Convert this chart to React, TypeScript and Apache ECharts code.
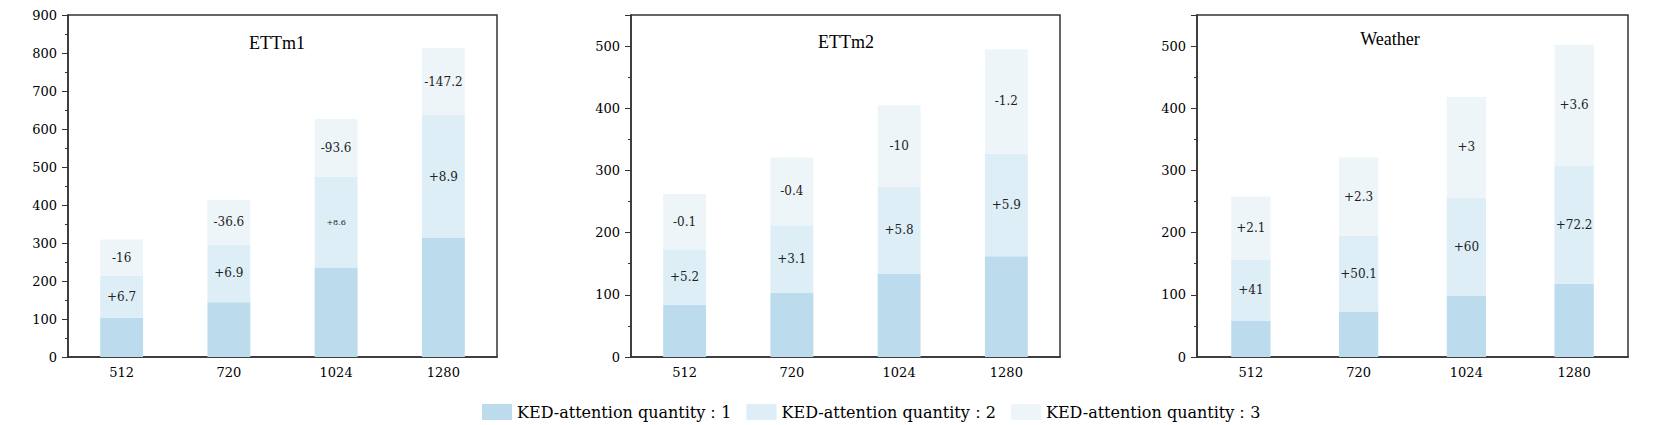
import React, { useEffect, useRef } from "react";
import * as echarts from "echarts";

const categories = ["512", "720", "1024", "1280"];
const seriesNames = ["KED-attention quantity：1", "KED-attention quantity：2", "KED-attention quantity：3"];
const panelTitles = ["ETTm1", "ETTm2", "Weather"];

// segment heights (stacked) per panel
const ettm1Layer1 = [103, 144, 234, 313];
const ettm1Layer2 = [111, 152, 241, 324];
const ettm1Layer3 = [95, 117, 151, 176];
const ettm2Layer1 = [84, 103, 134, 162];
const ettm2Layer2 = [89, 109, 140, 165];
const ettm2Layer3 = [89, 109, 131, 168];
const weatherLayer1 = [58, 73, 98, 118];
const weatherLayer2 = [98, 122, 158, 190];
const weatherLayer3 = [102, 126, 162, 194];

// annotation labels (layer 2 and layer 3)
const ettm1Labels2 = ["+6.7", "+6.9", "+8.6", "+8.9"];
const ettm1Labels3 = ["-16", "-36.6", "-93.6", "-147.2"];
const ettm2Labels2 = ["+5.2", "+3.1", "+5.8", "+5.9"];
const ettm2Labels3 = ["-0.1", "-0.4", "-10", "-1.2"];
const weatherLabels2 = ["+41", "+50.1", "+60", "+72.2"];
const weatherLabels3 = ["+2.1", "+2.3", "+3", "+3.6"];

const yMax = [900, 550, 550];

const colors = ["#bcdcee", "#ddeef7", "#eef5f8"];
const axisColor = "#333";
const serif = "'DejaVu Serif', serif";
const titleFont = "'Liberation Serif', serif";

const panels = [
  { layers: [ettm1Layer1, ettm1Layer2, ettm1Layer3], labels: [null, ettm1Labels2, ettm1Labels3] },
  { layers: [ettm2Layer1, ettm2Layer2, ettm2Layer3], labels: [null, ettm2Labels2, ettm2Labels3] },
  { layers: [weatherLayer1, weatherLayer2, weatherLayer3], labels: [null, weatherLabels2, weatherLabels3] },
];

const gridLayout = [
  { left: 68, width: 429, barWidth: "40%", titleX: 277, titleY: 43 },
  { left: 631, width: 429, barWidth: "40%", titleX: 846, titleY: 42 },
  { left: 1197, width: 431, barWidth: "36.5%", titleX: 1390, titleY: 39 },
];

export default function App() {
  const ref = useRef<HTMLDivElement>(null);
  useEffect(() => {
    if (!ref.current) return;
    const chart = echarts.init(ref.current, null, { renderer: "svg" });
    const grids: any[] = [];
    const xAxes: any[] = [];
    const yAxes: any[] = [];
    const series: any[] = [];
    const graphics: any[] = [];
    panels.forEach((p, i) => {
      const g = gridLayout[i];
      grids.push({
        left: g.left,
        width: g.width,
        top: 15,
        height: 342,
        show: true,
        borderColor: axisColor,
        borderWidth: 1.5,
        backgroundColor: "transparent",
      });
      xAxes.push({
        type: "category",
        gridIndex: i,
        data: categories,
        position: "bottom",
        axisLine: { lineStyle: { color: axisColor, width: 1.5 } },
        axisTick: { alignWithLabel: true, length: 6, lineStyle: { color: axisColor } },
        axisLabel: { color: "#000", fontFamily: serif, fontSize: 13, margin: 9 },
      });
      xAxes.push({
        type: "category",
        gridIndex: i,
        data: categories,
        position: "bottom",
        axisLine: { show: false },
        axisTick: { alignWithLabel: false, length: 3, lineStyle: { color: axisColor } },
        axisLabel: { show: false },
      });
      yAxes.push({
        type: "value",
        gridIndex: i,
        min: 0,
        max: yMax[i],
        interval: 100,
        axisLine: { show: true, lineStyle: { color: axisColor, width: 1.5 } },
        axisTick: { show: true, length: 6, lineStyle: { color: axisColor } },
        minorTick: { show: true, splitNumber: 2, length: 3, lineStyle: { color: axisColor } },
        splitLine: { show: false },
        axisLabel: {
          color: "#000",
          fontFamily: serif,
          fontSize: 13,
          margin: 11,
          formatter: (v: number) => (v % 100 === 0 ? String(v) : ""),
        },
      });
      p.layers.forEach((layer, li) => {
        const labs = p.labels[li];
        series.push({
          name: seriesNames[li],
          type: "bar",
          stack: "s" + i,
          xAxisIndex: i * 2,
          yAxisIndex: i,
          barWidth: g.barWidth,
          itemStyle: { color: colors[li] },
          data: layer.map((v, di) =>
            labs
              ? {
                  value: v,
                  label: {
                    show: true,
                    position: "inside",
                    formatter: labs[di],
                    color: "#222",
                    fontFamily: serif,
                    fontSize: labs[di] === "+8.6" ? 8 : 12,
                  },
                }
              : v
          ),
          label: { show: false },
        });
      });
      graphics.push({
        type: "text",
        x: g.titleX,
        y: g.titleY,
        style: {
          text: panelTitles[i],
          textAlign: "center",
          textVerticalAlign: "middle",
          fontFamily: titleFont,
          fontSize: 18,
          fill: "#000",
        },
      });
    });
    chart.setOption({
      animation: false,
      backgroundColor: "#fff",
      grid: grids,
      xAxis: xAxes,
      yAxis: yAxes,
      series,
      graphic: graphics,
      legend: {
        data: seriesNames,
        left: 477,
        top: 399,
        itemWidth: 30,
        itemHeight: 16,
        itemGap: 15,
        icon: "rect",
        textStyle: { fontFamily: serif, fontSize: 16, color: "#000" },
      },
    });
    return () => chart.dispose();
  }, []);
  return (
    <div
      ref={ref}
      style={{ position: "fixed", left: 0, top: 0, width: 1661, height: 425, background: "#fff" }}
    />
  );
}
